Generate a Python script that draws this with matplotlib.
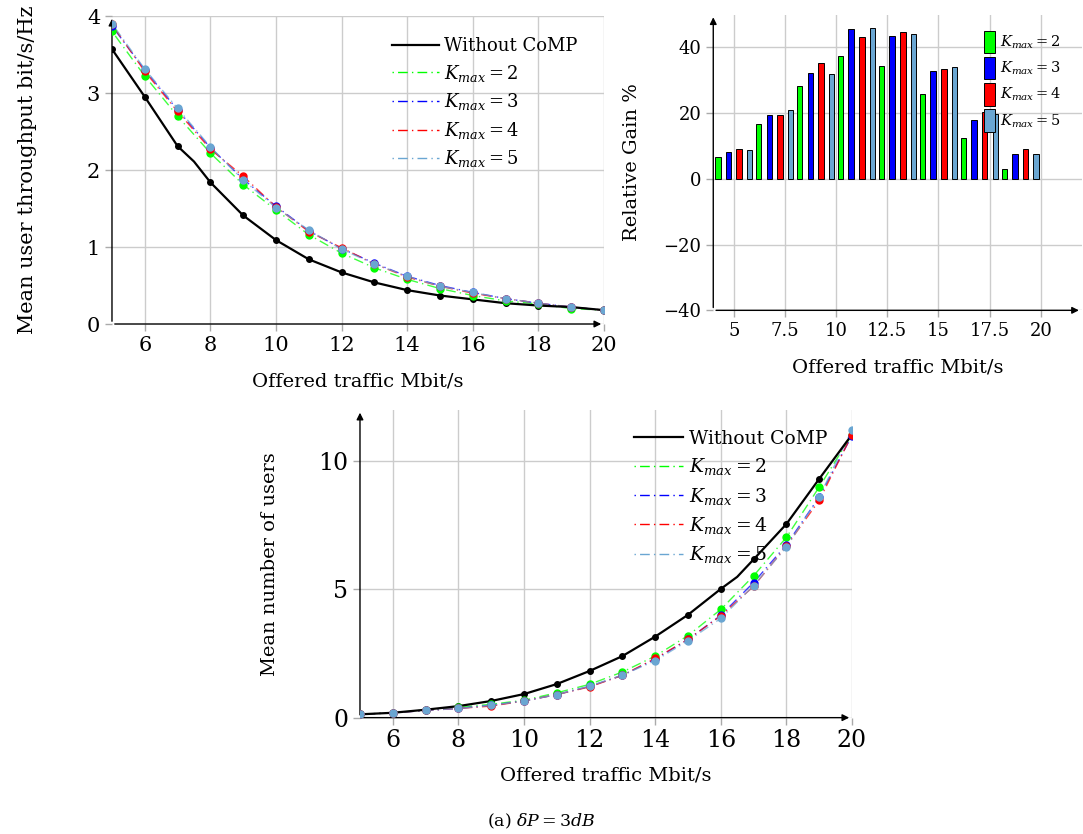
import numpy as np
import matplotlib
matplotlib.use("Agg")
import matplotlib.pyplot as plt
from matplotlib.patches import Patch
from matplotlib.lines import Line2D

plt.rcParams['font.family'] = ['DejaVu Serif']
plt.rcParams['mathtext.fontset'] = 'dejavuserif'

# --- throughput (top left) ---
traffic = [5, 6, 7, 8, 9, 10, 11, 12, 13, 14, 15, 16, 17, 18, 19, 20]
# black curve has one extra unmarked point at 7.5
tput_x_nocomp = [5, 6, 7, 7.5, 8, 9, 10, 11, 12, 13, 14, 15, 16, 17, 18, 19, 20]
tput_nocomp = [3.57, 2.95, 2.31, 2.11, 1.84, 1.41, 1.09, 0.84, 0.67, 0.54, 0.44, 0.37, 0.32, 0.27, 0.24, 0.22, 0.18]
tput_k2 = [3.80, 3.22, 2.70, 2.22, 1.81, 1.48, 1.16, 0.92, 0.73, 0.58, 0.46, 0.37, 0.30, 0.26, 0.20, 0.18]
tput_k3 = [3.87, 3.30, 2.78, 2.29, 1.88, 1.53, 1.21, 0.98, 0.79, 0.62, 0.50, 0.41, 0.33, 0.27, 0.22, 0.18]
tput_k4 = [3.89, 3.28, 2.76, 2.27, 1.92, 1.52, 1.20, 0.99, 0.78, 0.61, 0.49, 0.40, 0.33, 0.27, 0.22, 0.18]
tput_k5 = [3.90, 3.31, 2.80, 2.30, 1.87, 1.51, 1.22, 0.97, 0.78, 0.62, 0.49, 0.41, 0.33, 0.27, 0.22, 0.18]

# --- relative gain bars (top right) ---
gain_groups = [5, 7, 9, 11, 13, 15, 17, 19]
gain_k2 = [6.6, 16.6, 28.1, 37.5, 34.4, 25.9, 12.4, 3.1]
gain_k3 = [8.3, 19.3, 32.2, 45.5, 43.4, 32.7, 17.9, 7.5]
gain_k4 = [9.0, 19.3, 35.4, 43.3, 44.6, 33.4, 20.3, 9.1]
gain_k5 = [8.8, 20.9, 31.8, 46.0, 44.2, 34.0, 19.8, 7.6]

# --- mean number of users (bottom) ---
users_x_nocomp = [5, 6, 7, 8, 9, 10, 11, 12, 13, 14, 15, 16, 16.5, 17, 18, 19, 20]
users_nocomp = [0.13, 0.19, 0.31, 0.45, 0.65, 0.92, 1.31, 1.82, 2.40, 3.16, 4.01, 5.02, 5.49, 6.17, 7.55, 9.31, 11.04]
users_k2 = [0.13, 0.19, 0.30, 0.40, 0.52, 0.68, 0.97, 1.30, 1.78, 2.40, 3.20, 4.22, 5.53, 7.03, 8.99, 11.04]
users_k3 = [0.13, 0.19, 0.28, 0.36, 0.48, 0.65, 0.90, 1.22, 1.65, 2.28, 3.05, 3.99, 5.27, 6.74, 8.60, 11.00]
users_k4 = [0.13, 0.19, 0.28, 0.36, 0.45, 0.65, 0.90, 1.20, 1.65, 2.31, 3.05, 3.97, 5.12, 6.69, 8.47, 11.04]
users_k5 = [0.13, 0.19, 0.28, 0.36, 0.48, 0.65, 0.90, 1.23, 1.66, 2.22, 3.00, 3.87, 5.15, 6.65, 8.61, 11.22]

k_labels = [r'$K_{max}=2$', r'$K_{max}=3$', r'$K_{max}=4$', r'$K_{max}=5$']
k_colors = ['#00ff00', '#0000ff', '#ff0000', '#6aa6d2']
dashdot = (0, (1, 3, 7, 3))
gridc = '#cccccc'


def axis_arrows(ax):
    # pgfplots style: black left/bottom axis with arrow heads
    for s in ax.spines.values():
        s.set_visible(False)
    ax.annotate('', xy=(1, 0), xytext=(0, 0), xycoords='axes fraction',
                arrowprops=dict(arrowstyle='-|>', color='k', lw=1.0, mutation_scale=10))
    ax.annotate('', xy=(0, 1), xytext=(0, 0), xycoords='axes fraction',
                arrowprops=dict(arrowstyle='-|>', color='k', lw=1.0, mutation_scale=10))
    ax.grid(True, color=gridc, lw=1.0)
    ax.set_axisbelow(True)
    ax.tick_params(length=5, color='#aaaaaa', width=1)


def line_plot(ax, x_nc, y_nc, marks, k_series, fs_leg, loc_anchor, spacing):
    ax.plot(x_nc, y_nc, color='k', lw=1.6, marker='o', ms=4, markevery=marks,
            label='Without CoMP', zorder=5)
    for ys, c, lab in zip(k_series, k_colors, k_labels):
        ax.plot(traffic, ys, color=c, lw=1.0, ls=dashdot, alpha=0.75, zorder=4)
        ax.plot(traffic, ys, ls='none', marker='o', ms=5, color=c, zorder=6)
    handles = [Line2D([], [], color='k', lw=1.6, label='Without CoMP')]
    for c, lab in zip(k_colors, k_labels):
        handles.append(Line2D([], [], color=c, lw=1.0, ls=dashdot, label=lab))
    ax.legend(handles=handles, frameon=False, fontsize=fs_leg, loc='upper left',
              bbox_to_anchor=loc_anchor, handlelength=2.6, handletextpad=0.3,
              labelspacing=spacing, borderaxespad=0)


fig = plt.figure(figsize=(10.83, 8.34), dpi=100)

# top left
ax1 = fig.add_axes([0.1034, 0.6115, 0.4543, 0.3693])
line_plot(ax1, tput_x_nocomp, tput_nocomp, [i for i, v in enumerate(tput_x_nocomp) if v == int(v)],
          [tput_k2, tput_k3, tput_k4, tput_k5], 13, (0.554, 0.955), 0.42)
ax1.set_xlim(5, 20)
ax1.set_ylim(0, 4)
ax1.set_xticks([6, 8, 10, 12, 14, 16, 18, 20])
ax1.set_yticks([0, 1, 2, 3, 4])
axis_arrows(ax1)
ax1.tick_params(labelsize=15)
ax1.set_xlabel('Offered traffic Mbit/s', fontsize=14, labelpad=13)
ax1.set_ylabel('Mean user throughput bit/s/Hz', fontsize=15, labelpad=36)

# top right: relative gain
ax2 = fig.add_axes([0.6586, 0.6279, 0.3402, 0.3547])
gx = np.array(gain_groups, dtype=float)
offsets = [-0.78, -0.26, 0.26, 0.78]
for off, vals, c, lab in zip(offsets, [gain_k2, gain_k3, gain_k4, gain_k5], k_colors, k_labels):
    ax2.bar(gx + off, vals, width=0.27, color=c, edgecolor='k', lw=0.7, label=lab, zorder=3)
ax2.set_xlim(4.0, 22.0)
ax2.set_ylim(-40, 50)
ax2.set_xticks([5, 7.5, 10, 12.5, 15, 17.5, 20])
ax2.set_xticklabels(['5', '7.5', '10', '12.5', '15', '17.5', '20'])
ax2.set_yticks([-40, -20, 0, 20, 40])
axis_arrows(ax2)
ax2.tick_params(labelsize=13)
ax2.set_xlabel('Offered traffic Mbit/s', fontsize=14, labelpad=13)
ax2.set_ylabel('Relative Gain %', fontsize=14, labelpad=16)
bar_handles = [Patch(facecolor=c, edgecolor='k', lw=0.7, label=lab) for c, lab in zip(k_colors, k_labels)]
leg2 = ax2.legend(handles=bar_handles, frameon=False, fontsize=10.5, loc='upper left',
                  bbox_to_anchor=(0.72, 0.965), handlelength=0.7, handleheight=2.0,
                  handletextpad=0.4, labelspacing=0.25, borderaxespad=0)
leg2.set_zorder(10)

# bottom: mean number of users
ax3 = fig.add_axes([0.3324, 0.1395, 0.4543, 0.369])
line_plot(ax3, users_x_nocomp, users_nocomp, [i for i, v in enumerate(users_x_nocomp) if v == int(v)],
          [users_k2, users_k3, users_k4, users_k5], 13.5, (0.542, 0.96), 0.45)
ax3.set_xlim(5, 20)
ax3.set_ylim(0, 12)
ax3.set_xticks([6, 8, 10, 12, 14, 16, 18, 20])
ax3.set_yticks([0, 5, 10])
axis_arrows(ax3)
ax3.tick_params(labelsize=17)
ax3.set_xlabel('Offered traffic Mbit/s', fontsize=14, labelpad=10)
ax3.set_ylabel('Mean number of users', fontsize=14, labelpad=28)

fig.text(0.50, 0.009, r'(a) $\delta P = 3dB$', ha='center', fontsize=12.5)

fig.savefig('out.png', dpi=100)
